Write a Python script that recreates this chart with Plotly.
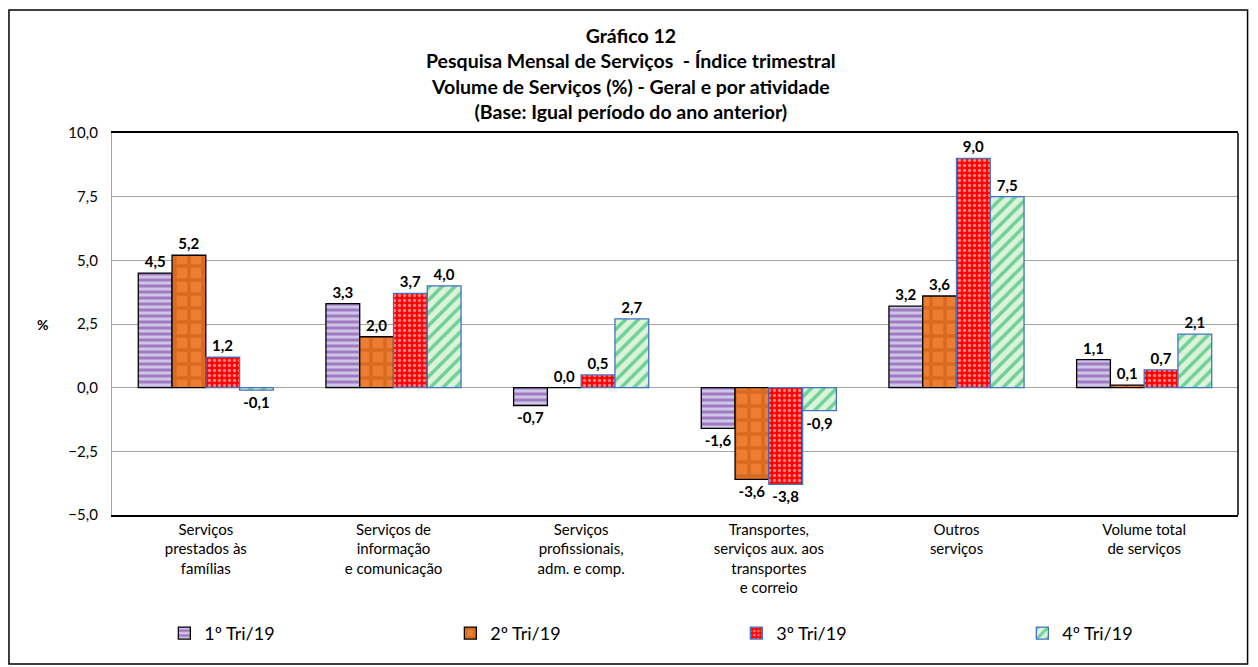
import plotly.graph_objects as go

categories = [
    "Serviços<br>prestados às<br>famílias",
    "Serviços de<br>informação<br>e comunicação",
    "Serviços<br>profissionais,<br>adm. e comp.",
    "Transportes,<br>serviços aux. aos<br>transportes<br>e correio",
    "Outros<br>serviços",
    "Volume total<br>de serviços",
]
series_names = ["1º Tri/19", "2º Tri/19", "3º Tri/19", "4º Tri/19"]
tri1 = [4.5, 3.3, -0.7, -1.6, 3.2, 1.1]
tri2 = [5.2, 2.0, 0.0, -3.6, 3.6, 0.1]
tri3 = [1.2, 3.7, 0.5, -3.8, 9.0, 0.7]
tri4 = [-0.1, 4.0, 2.7, -0.9, 7.5, 2.1]
y_ticks = [-5, -2.5, 0, 2.5, 5, 7.5, 10]

FONT = "Lato"

styles = [
    dict(bg="#CFC6E6", fg="#7030A0", shape="-", size=6, sol=0.5, line="#000000", leg="legend"),
    dict(bg="#ED7D31", fg="#C55A11", shape="+", size=14, sol=0.45, line="#000000", leg="legend"),
    dict(bg="#FF0000", fg="#FFFFFF", shape=".", size=5, sol=0.35, line="#4472C4", leg="legend"),
    dict(bg="#DDF2DA", fg="#00B050", shape="/", size=9, sol=0.4, line="#4472C4", leg="legend2"),
]

fig = go.Figure()
for name, vals, st in zip(series_names, [tri1, tri2, tri3, tri4], styles):
    fig.add_trace(go.Bar(
        x=categories, y=vals, name=name, legend=st["leg"],
        marker=dict(
            color=st["bg"],
            line=dict(color=st["line"], width=1.3),
            pattern=dict(shape=st["shape"], fgcolor=st["fg"], bgcolor=st["bg"],
                         size=st["size"], solidity=st["sol"], fillmode="overlay"),
        ),
        texttemplate="<b>%{y:.1f}</b>", textposition="outside",
        textfont=dict(family=FONT, size=15, color="#000000"),
        cliponaxis=False,
    ))

legend_common = dict(orientation="h", y=-0.31, xanchor="left", yanchor="middle",
                     entrywidth=241, entrywidthmode="pixels",
                     font=dict(family=FONT, size=18), itemwidth=30,
                     bgcolor="rgba(0,0,0,0)")

fig.update_layout(
    width=1258, height=667,
    separators=",.",
    paper_bgcolor="white", plot_bgcolor="white",
    margin=dict(l=104, r=28, t=125, b=160, autoexpand=False),
    barmode="group", bargap=0.28, bargroupgap=0.0,
    font=dict(family=FONT, color="#000000"),
    showlegend=True,
    legend=dict(x=0.0465, **legend_common),
    legend2=dict(x=0.0465 + 3 * 286 / 1126, **legend_common),
    annotations=[
        dict(text="<b>Gráfico 12<br>Pesquisa Mensal de Serviços  - Índice trimestral<br>"
                  "Volume de Serviços (%) - Geral e por atividade<br>"
                  "(Base: Igual período do ano anterior)</b>",
             xref="paper", yref="paper", x=0.461, y=1.155, xanchor="center", yanchor="middle",
             showarrow=False, font=dict(family=FONT, size=19.5), align="center"),
        dict(text="<b>%</b>", xref="paper", yref="paper", x=-0.0613, y=0.5,
             xanchor="center", yanchor="middle", showarrow=False,
             font=dict(family=FONT, size=14)),
    ],
    shapes=[
        dict(type="rect", xref="paper", yref="paper", x0=-0.0915, x1=1.0085, y0=-0.39, y1=1.322,
             line=dict(color="#000000", width=1.5), fillcolor="rgba(0,0,0,0)", layer="below"),
        dict(type="line", xref="paper", yref="paper", x0=1, x1=1, y0=0, y1=1,
             line=dict(color="#000000", width=1.5)),
    ],
)
fig.update_xaxes(showline=True, linecolor="#000000", linewidth=1.5, mirror=True,
                 ticks="", tickfont=dict(family=FONT, size=15), showgrid=False,
                 automargin=False)
fig.update_yaxes(range=[-5, 10], tickvals=y_ticks, tickformat=".1f",
                 showgrid=True, gridcolor="#A6A6A6", gridwidth=1.3,
                 zeroline=True, zerolinecolor="#A6A6A6", zerolinewidth=1.3,
                 showline=True, linecolor="#A6A6A6", linewidth=1.3,
                 tickfont=dict(family=FONT, size=15), ticks="", ticklabelstandoff=10,
                 automargin=False)

fig.write_html("out.html")
